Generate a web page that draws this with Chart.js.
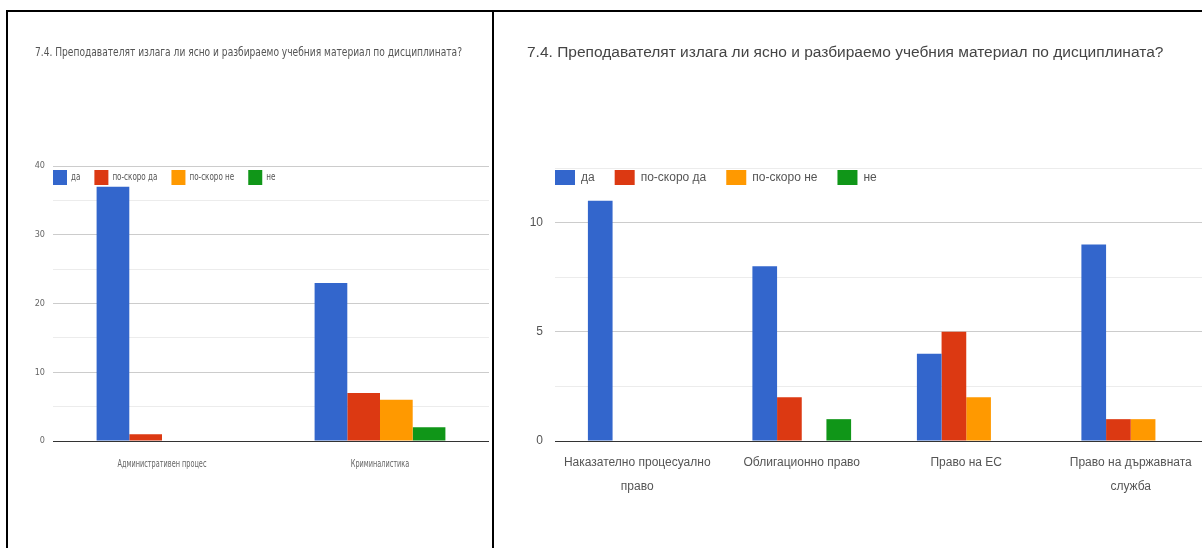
<!DOCTYPE html>
<html>
<head>
<meta charset="utf-8">
<script src="https://cdn.jsdelivr.net/npm/chart.js@4/dist/chart.umd.min.js"></script>
<style>
    body { margin: 0; background: #fff; width: 1202px; height: 548px; overflow: hidden; position: relative; }
    .line { position: absolute; background: #000; }
    .cell { position: absolute; top: 12px; height: 536px; overflow: hidden; }
</style>
</head>
<body>
<div class="line" style="left:6px; top:10px; width:1196px; height:2px;"></div>
<div class="line" style="left:6px; top:10px; width:2px; height:538px;"></div>
<div class="line" style="left:492px; top:10px; width:2px; height:538px;"></div>

<div class="cell" style="left:8px; width:484px;">
    <canvas id="leftChart" width="484" height="536"></canvas>
</div>
<div class="cell" style="left:494px; width:708px;">
    <canvas id="rightChart" width="740" height="536"></canvas>
</div>

<script>
//// Declarations states

// Variables
const chartTitle = '7.4. Преподавателят излага ли ясно и разбираемо учебния материал по дисциплината?';
const seriesNames = ['да', 'по-скоро да', 'по-скоро не', 'не'];
const seriesColors = ['#3366cc', '#dc3912', '#ff9900', '#109618'];

// left chart
const leftCategories = ['Административен процес', 'Криминалистика'];
const leftDa = [37, 23];
const leftPoSkoroDa = [1, 7];
const leftPoSkoroNe = [0, 6];
const leftNe = [0, 2];

// right chart
const rightCategories = [['Наказателно процесуално', 'право'], 'Облигационно право', 'Право на ЕС', ['Право на държавната', 'служба']];
const rightDa = [11, 8, 4, 9];
const rightPoSkoroDa = [0, 2, 5, 1];
const rightPoSkoroNe = [0, 0, 2, 1];
const rightNe = [0, 1, 0, 0];

const narrowFont = "'Liberation Sans Narrow', 'DejaVu Sans Condensed', sans-serif";
const normalFont = "'Liberation Sans', Arial, sans-serif";

// Functions
const buildDatasets = (series) => series.map((values, i) => ({
    label: seriesNames[i],
    data: values,
    backgroundColor: seriesColors[i],
    categoryPercentage: 0.6,
    barPercentage: 1.0
}));

// squeeze a text horizontally (the left picture is a squashed screenshot)
const squeezedText = (ctx, text, x, y, squeeze) => {
    const w = ctx.measureText(text).width * squeeze;
    ctx.fillText(text, x, y, w);
    return w;
};

// title
const fitTitle = {
    id: 'fitTitle',
    afterDraw(chart, args, opts) {
        const ctx = chart.ctx;
        ctx.save();
        ctx.font = opts.size + 'px ' + opts.family;
        ctx.fillStyle = opts.color;
        ctx.textBaseline = 'middle';
        ctx.fillText(chartTitle, opts.x, opts.y, opts.maxWidth);
        ctx.restore();
    }
};

// legend drawn inside the plot area, like the google one
const insideLegend = {
    id: 'insideLegend',
    afterDraw(chart, args, opts) {
        const ctx = chart.ctx;
        let x = chart.chartArea.left + opts.dx;
        const y = chart.chartArea.top + opts.dy;
        ctx.save();
        ctx.font = opts.fontSize + 'px ' + opts.family;
        ctx.textBaseline = 'middle';
        chart.data.datasets.forEach(ds => {
            ctx.fillStyle = ds.backgroundColor;
            ctx.fillRect(x, y, opts.boxW, opts.boxH);
            ctx.fillStyle = opts.color;
            const w = squeezedText(ctx, ds.label, x + opts.boxW + opts.gap, y + opts.boxH / 2, opts.squeeze);
            x += opts.boxW + opts.gap + w + opts.spacing;
        });
        ctx.restore();
    }
};

// category labels, squeezed when asked
const squeezedTicks = {
    id: 'squeezedTicks',
    afterDraw(chart, args, opts) {
        if (!opts.on) return;
        const ctx = chart.ctx;
        const xs = chart.scales.x;
        ctx.save();
        ctx.font = opts.size + 'px ' + opts.family;
        ctx.fillStyle = opts.color;
        ctx.textAlign = 'center';
        ctx.textBaseline = 'middle';
        chart.data.labels.forEach((label, i) => {
            squeezedText(ctx, label, xs.getPixelForTick(i), chart.chartArea.bottom + opts.dy, opts.squeeze);
        });
        ctx.restore();
    }
};

function makeChart(canvas, cfg) {
    return new Chart(canvas, {
        type: 'bar',
        data: {
            labels: cfg.labels,
            datasets: buildDatasets(cfg.series)
        },
        plugins: [fitTitle, insideLegend, squeezedTicks],
        options: {
            responsive: false,
            animation: false,
            layout: { padding: { left: cfg.padLeft, right: cfg.padRight, top: cfg.padTop, bottom: 0 } },
            plugins: {
                legend: { display: false },
                tooltip: { enabled: false },
                title: { display: false },
                fitTitle: cfg.title,
                insideLegend: cfg.legend,
                squeezedTicks: cfg.squeezedTicks
            },
            scales: {
                x: {
                    grid: { display: false, drawTicks: false },
                    border: { display: false },
                    ticks: {
                        display: !cfg.squeezedTicks.on,
                        color: cfg.tickColor,
                        padding: cfg.xPad,
                        maxRotation: 0,
                        autoSkip: false,
                        font: { family: cfg.family, size: cfg.xSize, lineHeight: cfg.xLine }
                    },
                    afterFit: (scale) => { scale.height = 107; }
                },
                y: {
                    min: 0,
                    max: cfg.max,
                    grid: {
                        drawTicks: false,
                        color: (c) => c.tick.value === 0 ? '#333333' : (c.tick.value % cfg.major === 0 ? '#cccccc' : '#ececec')
                    },
                    border: { display: false },
                    ticks: {
                        stepSize: cfg.step,
                        color: cfg.tickColor,
                        padding: cfg.yPad,
                        font: { family: cfg.family, size: cfg.ySize },
                        callback: (v) => v % cfg.major === 0 ? v : ''
                    },
                    afterFit: (scale) => { scale.width = cfg.yWidth; }
                }
            }
        }
    });
}

//// Executions state
window.onload = () => {
    makeChart(document.getElementById('leftChart'), {
        labels: leftCategories,
        series: [leftDa, leftPoSkoroDa, leftPoSkoroNe, leftNe],
        family: narrowFont,
        title: { x: 27, y: 41, size: 12.5, maxWidth: 427, family: narrowFont, color: '#555555' },
        padTop: 154,
        tickColor: '#666666',
        padLeft: 27,
        padRight: 3,
        yWidth: 18,
        yPad: 8,
        ySize: 9,
        xPad: 17,
        xSize: 11,
        xLine: 1.2,
        max: 40,
        step: 5,
        major: 10,
        squeezedTicks: { on: true, dy: 23, size: 11, squeeze: 0.66, family: narrowFont, color: '#666666' },
        legend: { dx: 0, dy: 4, boxW: 14, boxH: 15, gap: 4, spacing: 14, fontSize: 10, squeeze: 0.8, family: narrowFont, color: '#555555' }
    });

    makeChart(document.getElementById('rightChart'), {
        labels: rightCategories,
        series: [rightDa, rightPoSkoroDa, rightPoSkoroNe, rightNe],
        family: normalFont,
        title: { x: 33, y: 41, size: 15.5, maxWidth: 640, family: normalFont, color: '#444444' },
        padTop: 156,
        tickColor: '#555555',
        padLeft: 33,
        padRight: 21,
        yWidth: 28,
        yPad: 12,
        ySize: 12,
        xPad: 10,
        xSize: 12,
        xLine: 2.0,
        max: 12.5,
        step: 2.5,
        major: 5,
        squeezedTicks: { on: false },
        legend: { dx: 0, dy: 2, boxW: 20, boxH: 15, gap: 6, spacing: 20, fontSize: 12, squeeze: 1, family: normalFont, color: '#555555' }
    });
}
</script>
</body>
</html>
